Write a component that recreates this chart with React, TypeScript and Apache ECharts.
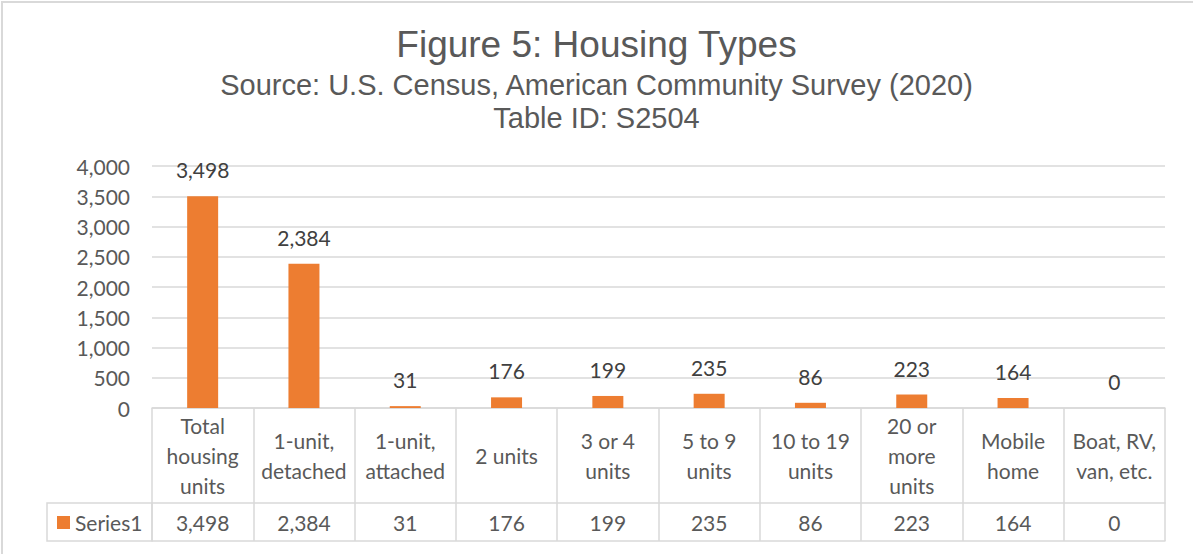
import React, { useEffect, useRef } from "react";
import * as echarts from "echarts";

const categories = [
  "Total\nhousing\nunits",
  "1-unit,\ndetached",
  "1-unit,\nattached",
  "2 units",
  "3 or 4\nunits",
  "5 to 9\nunits",
  "10 to 19\nunits",
  "20 or\nmore\nunits",
  "Mobile\nhome",
  "Boat, RV,\nvan, etc.",
];
const values = [3498, 2384, 31, 176, 199, 235, 86, 223, 164, 0];
const seriesName = "Series1";
const titleText = "Figure 5: Housing Types";
const subtitleLines = [
  "Source: U.S. Census, American Community Survey (2020)",
  "Table ID: S2504",
];

const fmt = (v: number) => v.toLocaleString("en-US");

export default function App() {
  const ref = useRef<HTMLDivElement>(null);
  useEffect(() => {
    if (!ref.current) return;
    const chart = echarts.init(ref.current, undefined, { renderer: "svg" });
    const bodyFont = "Lato";
    const bodySize = 21;
    const gray = "#595959";
    const lineGray = "#D9D9D9";
    chart.setOption({
      animation: false,
      backgroundColor: "#ffffff",
      title: [
        {
          text: titleText,
          left: "center",
          top: 20,
          textStyle: {
            fontFamily: "Liberation Sans",
            fontSize: 37,
            fontWeight: "normal",
            color: gray,
            lineHeight: 39,
          },
        },
        {
          text: subtitleLines[0],
          left: "center",
          top: 65,
          textStyle: {
            fontFamily: "Liberation Sans",
            fontSize: 29,
            fontWeight: "normal",
            color: gray,
            lineHeight: 30,
          },
        },
        {
          text: subtitleLines[1],
          left: "center",
          top: 98,
          textStyle: {
            fontFamily: "Liberation Sans",
            fontSize: 29,
            fontWeight: "normal",
            color: gray,
            lineHeight: 30,
          },
        },
      ],
      legend: {
        left: 52,
        top: 507,
        icon: "rect",
        itemWidth: 13,
        itemHeight: 13,
        itemGap: 5,
        data: [seriesName],
        textStyle: { fontFamily: bodyFont, fontSize: bodySize, color: gray, padding: [0, 0, 0, 0] },
      },
      grid: { left: 152, right: 28, top: 166, bottom: 146, containLabel: false },
      xAxis: [
        {
          type: "category",
          data: categories,
          position: "bottom",
          axisLine: { show: true, lineStyle: { color: lineGray, width: 1.5 } },
          axisTick: { show: true, length: 133, interval: 0, lineStyle: { color: lineGray, width: 1.5 } },
          axisLabel: {
            interval: 0,
            margin: 47,
            verticalAlign: "middle",
            fontFamily: bodyFont,
            fontSize: bodySize,
            lineHeight: 30,
            color: gray,
          },
        },
        {
          type: "category",
          data: values.map(fmt),
          position: "bottom",
          offset: 95,
          axisLine: { show: true, lineStyle: { color: lineGray, width: 1.5 } },
          axisTick: { show: false },
          axisLabel: {
            interval: 0,
            margin: 19,
            verticalAlign: "middle",
            fontFamily: bodyFont,
            fontSize: bodySize,
            color: gray,
          },
        },
        {
          type: "category",
          data: values.map(fmt),
          position: "bottom",
          offset: 133,
          axisLine: { show: true, lineStyle: { color: lineGray, width: 1.5 } },
          axisTick: { show: false },
          axisLabel: { show: false },
        },
      ],
      yAxis: {
        type: "value",
        min: 0,
        max: 4000,
        interval: 500,
        axisLine: { show: false },
        axisTick: { show: false },
        splitLine: { lineStyle: { color: lineGray, width: 1.5 } },
        axisLabel: {
          margin: 22,
          fontFamily: bodyFont,
          fontSize: bodySize,
          color: gray,
          formatter: (v: number) => fmt(v),
        },
      },
      series: [
        {
          name: seriesName,
          type: "bar",
          data: values,
          xAxisIndex: 0,
          barWidth: 31,
          itemStyle: { color: "#ED7D31" },
          label: {
            show: true,
            position: "top",
            distance: 16,
            fontFamily: bodyFont,
            fontSize: bodySize,
            color: "#404040",
            formatter: (p: any) => fmt(p.value),
          },
        },
      ],
      graphic: [
        {
          type: "rect",
          shape: { x: 2, y: 2, width: 1200, height: 570 },
          style: { fill: "none", stroke: lineGray, lineWidth: 2 },
          silent: true,
        },
        {
          type: "rect",
          shape: { x: 47, y: 503, width: 105, height: 38 },
          style: { fill: "none", stroke: lineGray, lineWidth: 1.5 },
          silent: true,
        },
      ],
    });
    return () => chart.dispose();
  }, []);
  return (
    <div
      ref={ref}
      style={{ position: "absolute", left: 0, top: 0, width: 1193, height: 554 }}
    />
  );
}
